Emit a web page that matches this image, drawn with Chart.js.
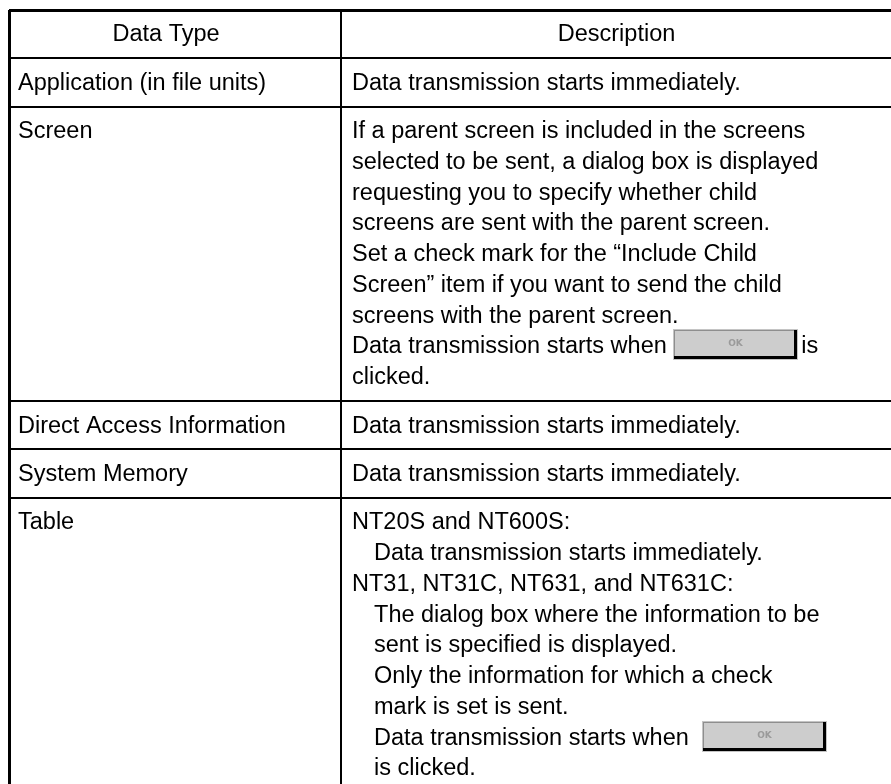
<!DOCTYPE html>
<html><head><meta charset="utf-8">
<script src="https://cdn.jsdelivr.net/npm/chart.js@4.4.1/dist/chart.umd.min.js"></script>
<style>
html,body{margin:0;padding:0;background:#fff;overflow:hidden;}
#wrap{position:absolute;left:0;top:0;width:900px;height:820px;}
</style></head><body>
<div id="wrap"><canvas id="c" width="900" height="820"></canvas></div>
<script>
// ---------- data ----------
const headers = ["Data Type", "Description"];
const dataTypes = ["Application (in file units)", "Screen", "Direct Access Information", "System Memory", "Table"];
const descApplication = ["Data transmission starts immediately."];
const descScreen = [
  "If a parent screen is included in the screens",
  "selected to be sent, a dialog box is displayed",
  "requesting you to specify whether child",
  "screens are sent with the parent screen.",
  "Set a check mark for the \u201CInclude Child",
  "Screen\u201D item if you want to send the child",
  "screens with the parent screen.",
  "Data transmission starts when {OK}is",
  "clicked."
];
const descDirect = ["Data transmission starts immediately."];
const descSystem = ["Data transmission starts immediately."];
const descTable = [
  "NT20S and NT600S:",
  "  Data transmission starts immediately.",
  "NT31, NT31C, NT631, and NT631C:",
  "  The dialog box where the information to be",
  "  sent is specified is displayed.",
  "  Only the information for which a check",
  "  mark is set is sent.",
  "  Data transmission starts when  {OK}",
  "  is clicked."
];
const descriptions = [descApplication, descScreen, descDirect, descSystem, descTable];

// ---------- layout / style ----------
const LINE_PX = 30.76;        // one text line in pixels
const ROW_PAD = 0.572;        // extra space per row, in lines
const FIRST_BASE = 1.02;      // first baseline below row top, in lines
const COL_SPLIT = 0.3756;     // column divider as fraction of table width
const FONT = '23.5px "Liberation Sans", Arial, Helvetica, sans-serif';
const INDENT = 22;
const PAD = [{l: 9, r: 27}, {l: 11, r: 12}];
const BTN_W = 125, BTN_H = 31, BTN_UP = 24, BTN_AFTER = 3;

// row boundaries in line units
const rowLines = [1].concat(descriptions.map(d => Math.max(1, d.length)));
const bounds = [0];
rowLines.forEach(n => bounds.push(bounds[bounds.length - 1] + n + ROW_PAD));

const CANVAS_H = 820, TOP_PAD = 10;
const Y_MAX = (CANVAS_H - TOP_PAD) / LINE_PX;

function drawButton(ctx, bx, base) {
  const top = Math.round(base - BTN_UP), x = Math.round(bx);
  ctx.save();
  ctx.fillStyle = '#c4c4c4';
  ctx.fillRect(x, top, BTN_W, BTN_H);
  ctx.fillStyle = '#cdcdcd';
  ctx.fillRect(x + 2, top + 2, BTN_W - 5, BTN_H - 5);
  ctx.fillStyle = '#8e8e8e';
  ctx.fillRect(x + 1, top + 1, BTN_W - 3, 1);
  ctx.fillRect(x + 1, top + 1, 1, BTN_H - 3);
  ctx.fillStyle = '#000';
  ctx.fillRect(x + BTN_W - 4, top + 1, 3, BTN_H - 2);
  ctx.fillRect(x + 1, top + BTN_H - 4, BTN_W - 2, 3);
  ctx.fillStyle = '#9a9a9a';
  ctx.font = 'bold 9px "DejaVu Sans", sans-serif';
  ctx.textAlign = 'center';
  ctx.textBaseline = 'middle';
  ctx.fillText('OK', x + BTN_W / 2, top + BTN_H / 2 - 1);
  ctx.restore();
}

function drawLine(ctx, text, x0, base) {
  let x = x0;
  if (text.startsWith('  ')) { x += INDENT; text = text.slice(2); }
  const parts = text.split('{OK}');
  parts.forEach((p, i) => {
    if (i > 0) { drawButton(ctx, x, base); x += BTN_W + BTN_AFTER; }
    ctx.fillText(p, x, base);
    x += ctx.measureText(p).width;
  });
}

const tablePlugin = {
  id: 'tableText',
  afterDraw(chart) {
    const {ctx, scales: {x, y}} = chart;
    const colEdges = [x.getPixelForValue(0), x.getPixelForValue(COL_SPLIT), x.getPixelForValue(1)];
    ctx.save();
    ctx.font = FONT;
    ctx.fillStyle = '#000';
    ctx.textBaseline = 'alphabetic';
    headers.forEach((h, c) => {
      const l = colEdges[c] + PAD[c].l, r = colEdges[c + 1] - PAD[c].r;
      ctx.textAlign = 'center';
      ctx.fillText(h, (l + r) / 2, y.getPixelForValue(bounds[0] + FIRST_BASE));
    });
    ctx.textAlign = 'left';
    dataTypes.forEach((t, r) => {
      const b = bounds[r + 1];
      ctx.fillText(t, colEdges[0] + PAD[0].l, y.getPixelForValue(b + FIRST_BASE));
      descriptions[r].forEach((line, i) => {
        drawLine(ctx, line, colEdges[1] + PAD[1].l, y.getPixelForValue(b + FIRST_BASE + i));
      });
    });
    ctx.restore();
  }
};

new Chart(document.getElementById('c'), {
  type: 'scatter',
  data: { datasets: [] },
  options: {
    responsive: false,
    animation: false,
    events: [],
    layout: { padding: { left: 9, top: TOP_PAD, right: 7, bottom: 0 } },
    plugins: { legend: { display: false }, tooltip: { enabled: false } },
    scales: {
      x: {
        type: 'linear', min: 0, max: 1,
        afterBuildTicks: axis => { axis.ticks = [0, COL_SPLIT, 1].map(v => ({ value: v })); },
        ticks: { display: false },
        border: { display: false },
        grid: { drawTicks: false, color: '#000', lineWidth: c => (c.index === 1 ? 2 : 3) }
      },
      y: {
        type: 'linear', reverse: true, min: 0, max: Y_MAX,
        afterBuildTicks: axis => { axis.ticks = bounds.map(v => ({ value: v })); },
        ticks: { display: false },
        border: { display: false },
        grid: { drawTicks: false, color: '#000',
          lineWidth: c => (c.index === 0 || c.index === bounds.length - 1 ? 3 : 2) }
      }
    }
  },
  plugins: [tablePlugin]
});
</script>
</body></html>
